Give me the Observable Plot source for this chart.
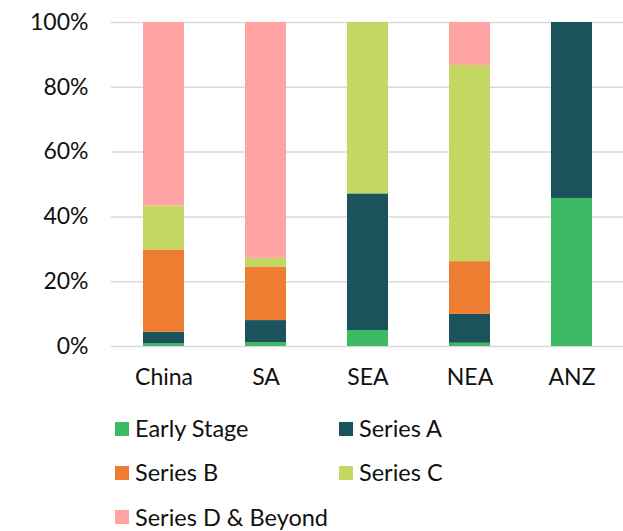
<!DOCTYPE html>
<html>
<head>
<meta charset="utf-8">
<script src="https://cdn.jsdelivr.net/npm/d3@7"></script>
<script src="https://cdn.jsdelivr.net/npm/@observablehq/plot@0.6"></script>
<style>
  body { margin: 0; background: #fff; font-family: Lato, "Open Sans", sans-serif; }
  #wrap { position: relative; width: 623px; height: 531px; }
  #legend { position: absolute; left: 115px; top: 417px; display: grid; grid-template-columns: 224px 200px; row-gap: 20.2px; font-size: 23.5px; line-height: 1; color: #111; }
  .item { display: flex; align-items: center; height: 24px; white-space: nowrap; }
  .sw { width: 14px; height: 14px; margin-right: 6px; flex: none; }
</style>
</head>
<body>
<div id="wrap"></div>
<script>
const categories = ["China", "SA", "SEA", "NEA", "ANZ"];
const seriesNames = ["Early Stage", "Series A", "Series B", "Series C", "Series D & Beyond"];
const earlyStage = [0.8, 1.2, 4.9, 1.0, 45.7];
const seriesA    = [3.6, 6.8, 42.2, 8.9, 54.3];
const seriesB    = [25.4, 16.4, 0, 16.3, 0];
const seriesC    = [13.6, 2.8, 52.9, 60.5, 0];
const seriesD    = [56.6, 72.8, 0, 13.3, 0];
const colors = ["#3dba64", "#1b535c", "#ee7d31", "#c3d762", "#ffa3a3"];
const yTicks = [0, 20, 40, 60, 80, 100];

const seriesValues = [earlyStage, seriesA, seriesB, seriesC, seriesD];
const data = [];
categories.forEach((c, i) => {
  seriesNames.forEach((s, j) => data.push({category: c, series: s, value: seriesValues[j][i]}));
});

const chart = Plot.plot({
  width: 623,
  height: 395,
  marginTop: 22,
  marginBottom: 49,
  marginLeft: 111,
  marginRight: 0,
  style: {fontFamily: "Lato, sans-serif", fontSize: "23px", color: "#111"},
  x: {domain: categories, paddingInner: 0.6, paddingOuter: 0.3, label: null},
  y: {domain: [0, 100], label: null},
  color: {domain: seriesNames, range: colors},
  marks: [
    Plot.ruleY(yTicks, {stroke: "#d9d9d9", strokeWidth: 1.5}),
    Plot.barY(data, Plot.stackY({x: "category", y: "value", fill: "series", order: seriesNames})),
    Plot.axisX({tickSize: 0, tickPadding: 22, fontSize: 23, label: null, fill: "#111"}),
    Plot.axisY({ticks: yTicks, tickFormat: d => d + "%", tickSize: 0, tickPadding: 23, fontSize: 23, label: null, fill: "#111"})
  ]
});
document.getElementById("wrap").appendChild(chart);

const legend = document.createElement("div");
legend.id = "legend";
seriesNames.forEach((s, j) => {
  const it = document.createElement("div");
  it.className = "item";
  const sw = document.createElement("span");
  sw.className = "sw";
  sw.style.background = colors[j];
  it.appendChild(sw);
  const t = document.createElement("span");
  t.textContent = s;
  it.appendChild(t);
  legend.appendChild(it);
});
document.getElementById("wrap").appendChild(legend);
</script>
</body>
</html>
